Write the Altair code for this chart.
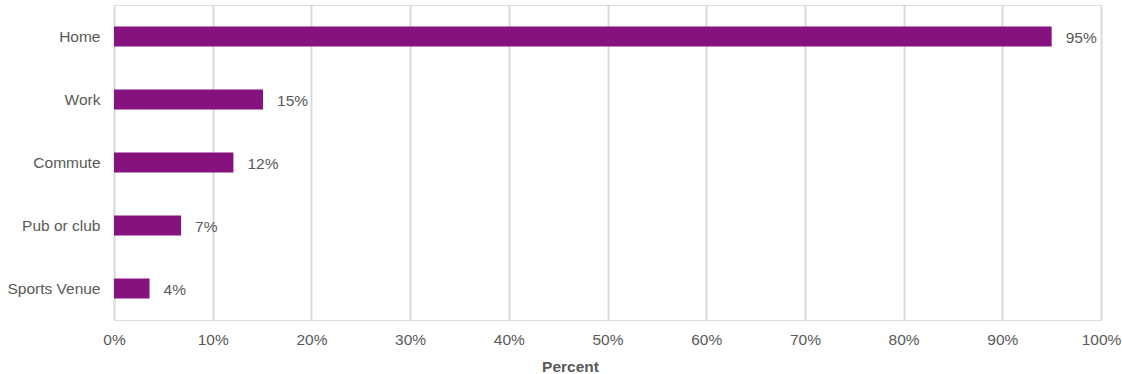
import altair as alt
import pandas as pd

categories = ["Home", "Work", "Commute", "Pub or club", "Sports Venue"]
values = [95.0, 15.1, 12.1, 6.8, 3.6]
labels = ["95%", "15%", "12%", "7%", "4%"]

df = pd.DataFrame({"place": categories, "value": values, "label": labels})

FONT = "Liberation Sans"
GREY = "#595959"
FS = 15.5

y_enc = alt.Y("place:N", sort=categories, title=None,
              scale=alt.Scale(paddingInner=0.68, paddingOuter=0.34),
              axis=alt.Axis(domain=False, ticks=False, labelFontSize=FS,
                            labelColor=GREY, labelFont=FONT, labelPadding=14,
                            grid=False))

bars = alt.Chart(df).mark_bar(color="#85127e", size=20).encode(
    x=alt.X("value:Q", title="Percent",
            scale=alt.Scale(domain=[0, 100], nice=False),
            axis=alt.Axis(values=list(range(0, 101, 10)),
                          labelExpr="datum.value + '%'",
                          domain=False, ticks=False, grid=True,
                          gridColor="#d9d9d9", gridWidth=2,
                          labelFlush=False,
                          labelFontSize=FS, labelColor=GREY, labelFont=FONT,
                          labelPadding=12, titleFontSize=FS, titleColor=GREY,
                          titleFont=FONT, titleFontWeight="bold",
                          titlePadding=12, titleX=456)),
    y=y_enc,
)

text = alt.Chart(df).mark_text(align="left", baseline="middle", dx=14, dy=1,
                               fontSize=FS, color=GREY, font=FONT).encode(
    x=alt.X("value:Q"),
    y=alt.Y("place:N", sort=categories),
    text="label:N",
)

chart = (bars + text).properties(
    width=987, height=315,
    autosize=alt.AutoSizeParams(type="none"),
    padding={"left": 114, "top": 5, "right": 21, "bottom": 54},
).configure_view(strokeWidth=0, stroke="transparent").configure_axis(
    domain=False
).configure(background="white")

chart.save("out.html", embed_options={"renderer": "svg", "actions": False})
